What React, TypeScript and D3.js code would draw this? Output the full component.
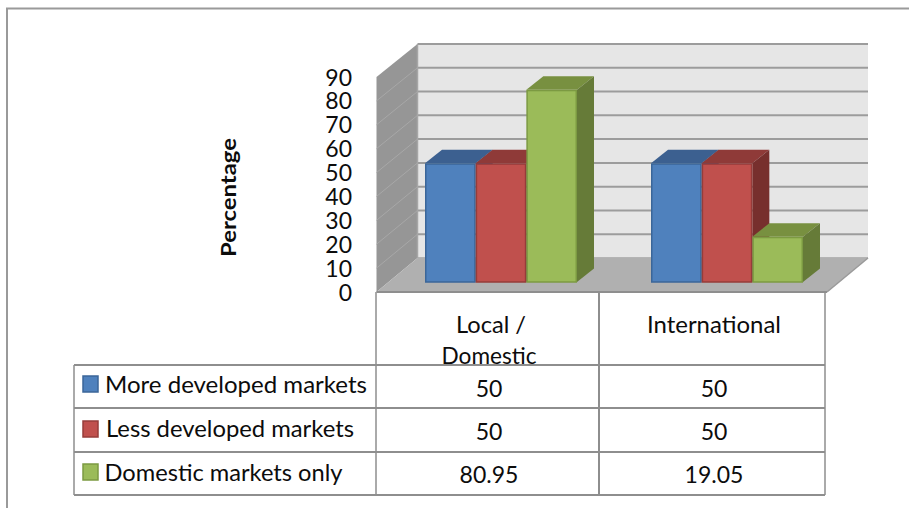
import React from "react";
import * as d3 from "d3";

// Chart data
const categories = ["Local / Domestic", "International"];
const categoryLines = [["Local /", "Domestic"], ["International"]];
const seriesNames = ["More developed markets", "Less developed markets", "Domestic markets only"];
const moreDeveloped = [50, 50];
const lessDeveloped = [50, 50];
const domesticOnly = [80.95, 19.05];
const seriesValues = [moreDeveloped, lessDeveloped, domesticOnly];
const valueLabels = [["50", "50"], ["50", "50"], ["80.95", "19.05"]];
const yTicks = [0, 10, 20, 30, 40, 50, 60, 70, 80, 90];

const palette = [
  { front: "#4f81bd", edge: "#3b6699", top: "#3c6090", side: "#355a85" },
  { front: "#c0504d", edge: "#963c3a", top: "#8f3a38", side: "#772f2d" },
  { front: "#9bbb59", edge: "#7c9a42", top: "#789040", side: "#667b38" },
];

const W = 909;
const H = 508;
const FONT = "Lato, Carlito, sans-serif";
const LINE = "#8e8e8e";
const INK = "#0c0c0c";

// Depth offset of the 3D box: front plane to back plane
const wallDx = 41;
const wallDy = -34;
const barDx = 17;
const barDy = -13.5;

// Value scales for the three planes of the box
const yFront = d3.scaleLinear().domain([0, 90]).range([292, 77]);
const yBack = d3.scaleLinear().domain([0, 90]).range([258, 44]);
const yBar = d3.scaleLinear().domain([0, 90]).range([282, 68.3]);

const xCategory = d3.scaleBand<string>().domain(categories).range([376.5, 828.5]);
const xSeries = d3.scaleBand<string>().domain(seriesNames).range([48.5, 200.5]);

// Table grid positions
const tableX = { legendLeft: 74, left: 376, mid: 599, right: 825 };
const rowLines = [365, 408, 452, 495];
const rowBaselines = [397, 440, 483];
const legendText = [
  { x: 105, y: 393, len: 262 },
  { x: 106, y: 437, len: 248 },
  { x: 104.5, y: 481, len: 238 },
];
const headerText = [
  { x: 491, y: 333, len: 70, line: 0, col: 0 },
  { x: 489, y: 364, len: 95, line: 1, col: 0 },
  { x: 714, y: 333, len: 134, line: 0, col: 1 },
];
const swatchTop = [376, 421, 464];
const colCenters = [489, 714];

const poly = d3.line<[number, number]>();

function Bar({ x, w, value, c }: { x: number; w: number; value: number; c: (typeof palette)[number] }) {
  const t = yBar(value);
  const b = yBar(0);
  const r = x + w;
  return (
    <g>
      <path
        d={poly([[x, t], [x + barDx, t + barDy], [r + barDx, t + barDy], [r, t]]) + "Z"}
        fill={c.top}
      />
      <path
        d={poly([[r, t], [r + barDx, t + barDy], [r + barDx, b + barDy], [r, b]]) + "Z"}
        fill={c.side}
      />
      <rect x={x + 0.75} y={t + 0.75} width={w - 1.5} height={b - t - 0.75} fill={c.front} stroke={c.edge} strokeWidth={1.5} />
    </g>
  );
}

export default function App() {
  const left = xCategory.range()[0];
  const backLeft = left + wallDx;
  const backRight = 868;
  return (
    <svg
      width={W}
      height={H}
      viewBox={`0 0 ${W} ${H}`}
      style={{ position: "fixed", left: 0, top: 0, background: "#fff" }}
      fontFamily={FONT}
      fill={INK}
    >
      {/* Outer frame, open at the right and bottom */}
      <path d={`M7,${H}V8.5H${W}`} fill="none" stroke="#9a9a9a" strokeWidth={2} />

      {/* Back wall and its gridlines */}
      <rect x={backLeft} y={yBack(90)} width={backRight - backLeft} height={yBack(0) - yBack(90)} fill="#e6e6e6" />
      {yTicks.map((t) => (
        <line key={t} x1={backLeft} x2={backRight} y1={yBack(t)} y2={yBack(t)} stroke={t === 0 ? "#b4b4b4" : "#9c9c9c"} strokeWidth={2} />
      ))}

      {/* Side wall */}
      <path
        d={poly([[left, yFront(90)], [backLeft, yBack(90)], [backLeft, yBack(0)], [left, yFront(0)]]) + "Z"}
        fill="#969696"
      />
      {yTicks.slice(1, -1).map((t) => (
        <line key={t} x1={left} x2={backLeft} y1={yFront(t)} y2={yBack(t)} stroke="#a8a8a8" strokeWidth={1} />
      ))}
      <line x1={backLeft} x2={backLeft} y1={yBack(90)} y2={yBack(0)} stroke="#a6a6a6" strokeWidth={1.5} />

      {/* Floor */}
      <path
        d={poly([[left, yFront(0)], [backLeft, yBack(0)], [backRight, yBack(0)], [backRight - wallDx, yFront(0)]]) + "Z"}
        fill="#b0b0b0"
      />
      <line x1={backRight} x2={backRight - wallDx} y1={yBack(0)} y2={yFront(0)} stroke="#9a9a9a" strokeWidth={1.5} />

      {/* Bars */}
      {categories.map((cat, ci) =>
        seriesNames.map((s, si) => (
          <Bar
            key={cat + s}
            x={xCategory(cat)! + xSeries(s)!}
            w={xSeries.bandwidth()}
            value={seriesValues[si][ci]}
            c={palette[si]}
          />
        ))
      )}

      {/* Data table grid */}
      <g stroke={LINE} strokeWidth={2} fill="none">
        <line x1={left} x2={backRight - wallDx} y1={292} y2={292} />
        <line x1={tableX.left} x2={tableX.left} y1={292} y2={rowLines[3]} strokeWidth={1.5} />
        <line x1={tableX.mid} x2={tableX.mid} y1={292} y2={rowLines[3]} />
        <line x1={tableX.right} x2={tableX.right} y1={292} y2={rowLines[3]} strokeWidth={1.5} />
        <line x1={tableX.legendLeft} x2={tableX.legendLeft} y1={rowLines[0]} y2={rowLines[3]} strokeWidth={1.5} />
        {rowLines.map((y) => (
          <line key={y} x1={tableX.legendLeft} x2={tableX.right} y1={y} y2={y} />
        ))}
      </g>

      {/* Value axis */}
      <g fontSize={23} textAnchor="end">
        {yTicks.map((t) => (
          <text key={t} x={352} y={yFront(t) + 8.5}>{t}</text>
        ))}
      </g>
      <text
        transform="translate(236,257) rotate(-90)"
        fontSize={21}
        fontWeight={700}
        textLength={119}
        lengthAdjust="spacingAndGlyphs"
      >
        Percentage
      </text>

      {/* Category headers */}
      <g fontSize={23} textAnchor="middle">
        {headerText.map((h) => (
          <text key={h.x + "-" + h.y} x={h.x} y={h.y} textLength={h.len} lengthAdjust="spacingAndGlyphs">
            {categoryLines[h.col][h.line]}
          </text>
        ))}
      </g>

      {/* Legend keys and table values */}
      {seriesNames.map((s, si) => (
        <g key={s}>
          <rect x={83} y={swatchTop[si]} width={15} height={16} fill={palette[si].front} stroke={palette[si].edge} strokeWidth={1.5} />
          <text x={legendText[si].x} y={legendText[si].y} fontSize={23} textLength={legendText[si].len} lengthAdjust="spacingAndGlyphs">
            {s}
          </text>
          {categories.map((cat, ci) => (
            <text key={cat} x={colCenters[ci]} y={rowBaselines[si]} fontSize={23} textAnchor="middle">
              {valueLabels[si][ci]}
            </text>
          ))}
        </g>
      ))}
    </svg>
  );
}
